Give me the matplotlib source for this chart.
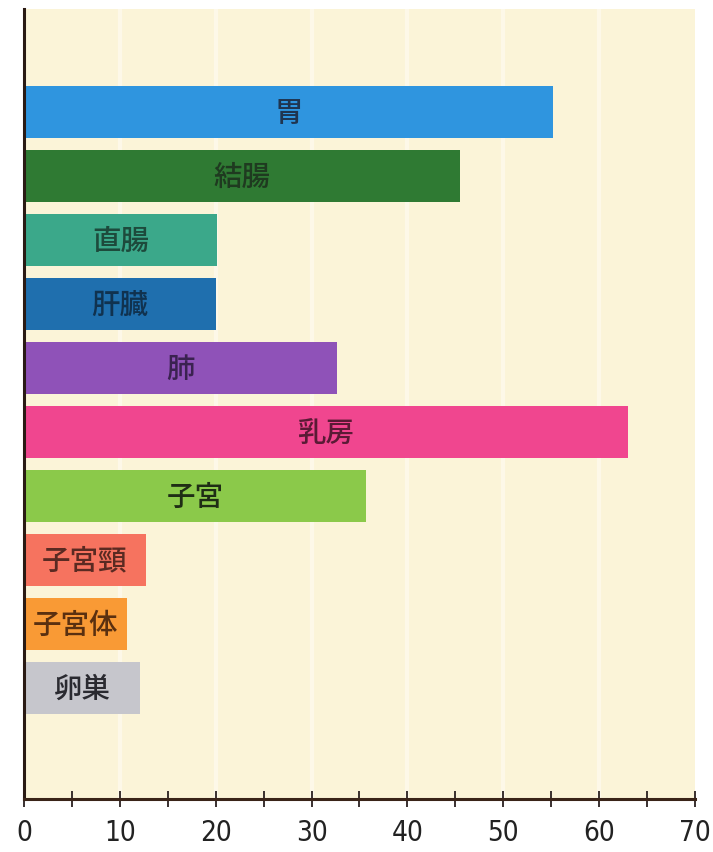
import matplotlib.pyplot as plt
import numpy as np
from matplotlib.ticker import MultipleLocator

# Sites and values (horizontal bars, top to bottom)
sites = ['胃', '結腸', '直腸', '肝臓', '肺', '乳房', '子宮', '子宮頸', '子宮体', '卵巣']
values = [55.2, 45.5, 20.1, 20.0, 32.7, 63.0, 35.7, 12.7, 10.7, 12.1]
x_ticks = [0, 10, 20, 30, 40, 50, 60, 70]

BAR_COLORS = ['#2f95df', '#2f7a33', '#3ba88a', '#1f6fae', '#8f52b8',
              '#f0468f', '#8bc94a', '#f6735f', '#f99a35', '#c6c6cc']
TEXT_COLORS = ['#1f3550', '#1f3a20', '#1d4a3c', '#10324f', '#3a2250',
               '#5a1a35', '#1f2d15', '#5a2a22', '#5a3010', '#2a2a30']
BG = '#fbf4d8'
STRIPE = '#fdf8e8'

plt.rcParams['font.family'] = ['Noto Sans CJK JP', 'DejaVu Sans']

fig = plt.figure(figsize=(7.13, 8.53), dpi=100)
ax = fig.add_axes([0.0337, 0.062, 0.941, 0.926])
ax.set_facecolor(BG)

# faint lighter bands every 10 units
for x in x_ticks[1:-1]:
    ax.axvline(x, color=STRIPE, lw=3, zorder=0)

pos = np.arange(len(sites))
ax.barh(pos, values, height=0.81, color=BAR_COLORS, zorder=2)

for p, v, name, tc in zip(pos, values, sites, TEXT_COLORS):
    ax.text(v / 2, p, name, ha='center', va='center', fontsize=20.5,
            fontweight='medium', color=tc, zorder=3)

ax.set_xlim(0, 70)
ax.set_ylim(10.73, -1.61)

ax.xaxis.set_minor_locator(MultipleLocator(5))
ax.set_xticks(x_ticks)
ax.set_xticklabels([str(t) for t in x_ticks], fontsize=20,
                   family='DejaVu Sans', stretch='condensed', color='#222222')
ax.tick_params(axis='x', which='both', direction='inout', length=11,
               width=1.3, color='#2a2020', pad=8)
ax.set_yticks([])

for side in ('top', 'right'):
    ax.spines[side].set_visible(False)
ax.spines['left'].set_color('#2a1a14')
ax.spines['left'].set_linewidth(2.2)
ax.spines['bottom'].set_color('#3a2418')
ax.spines['bottom'].set_linewidth(2.2)

fig.savefig('out.png', dpi=100, facecolor='white')
